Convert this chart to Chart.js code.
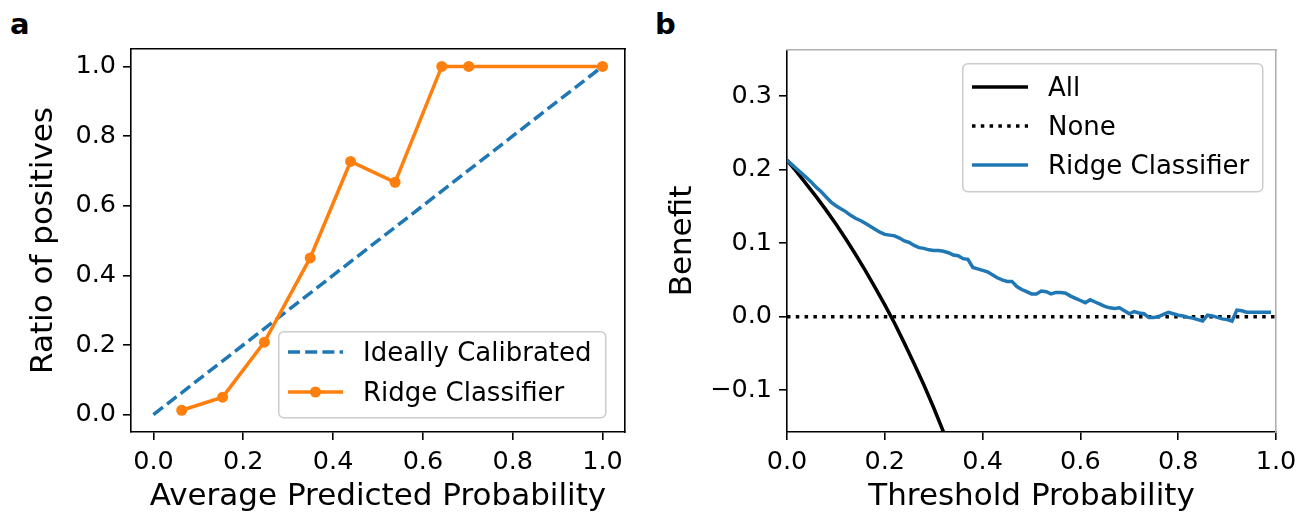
<!DOCTYPE html>
<html>
<head>
<meta charset="utf-8">
<script src="https://cdn.jsdelivr.net/npm/chart.js@4/dist/chart.umd.min.js"></script>
<style>
  body { margin: 0; background: #fff; }
  #wrap { position: relative; width: 1307px; height: 520px; overflow: hidden; font-family: 'DejaVu Sans', sans-serif; }
  canvas { position: absolute; top: 0; }
  .tag { position: absolute; font-weight: bold; font-size: 29px; line-height: 1; }
  .legend { position: absolute; overflow: visible; }
  .legend text { font-family: 'DejaVu Sans', sans-serif; font-size: 26px; fill: #000; }
</style>
</head>
<body>
<div id="wrap">
  <div class="tag" style="left:10px; top:10px;">a</div>
  <div class="tag" style="left:655px; top:10px;">b</div>
  <canvas id="chart-calibration" width="650" height="520" style="left:0;"></canvas>
  <canvas id="chart-dca" width="657" height="520" style="left:650px;"></canvas>

  <svg class="legend" style="left:278px; top:331px;" width="330" height="89">
    <rect x="0.75" y="0.75" width="327" height="86" rx="5" fill="#fff" fill-opacity="0.8" stroke="#cccccc" stroke-width="1.5"/>
    <line x1="10" x2="65" y1="21" y2="21" stroke="#1f77b4" stroke-width="3.5" stroke-dasharray="12 5.2"/>
    <text id="leg-ideal" x="85" y="21" dominant-baseline="central"></text>
    <line x1="10" x2="65" y1="61" y2="61" stroke="#ff7f0e" stroke-width="3.5"/>
    <circle cx="37.5" cy="61" r="5.5" fill="#ff7f0e"/>
    <text id="leg-ridge-a" x="85" y="61" dominant-baseline="central"></text>
  </svg>

  <svg class="legend" style="left:962px; top:63px;" width="303" height="131">
    <rect x="0.75" y="0.75" width="300" height="128" rx="5" fill="#fff" fill-opacity="0.8" stroke="#cccccc" stroke-width="1.5"/>
    <line x1="10" x2="66" y1="24" y2="24" stroke="#000" stroke-width="3.5"/>
    <text id="leg-all" x="86" y="24" dominant-baseline="central"></text>
    <line x1="10" x2="66" y1="63" y2="63" stroke="#000" stroke-width="3.5" stroke-dasharray="3.5 5.3"/>
    <text id="leg-none" x="86" y="63" dominant-baseline="central"></text>
    <line x1="10" x2="66" y1="102" y2="102" stroke="#1f77b4" stroke-width="3.5"/>
    <text id="leg-ridge-b" x="86" y="102" dominant-baseline="central"></text>
  </svg>
</div>
<script>
// panel a: calibration curve
const calibTicks = [0, 0.2, 0.4, 0.6, 0.8, 1.0];
const idealProb = [0, 1];
const idealRatio = [0, 1];
const calibProb = [0.063, 0.154, 0.247, 0.349, 0.439, 0.538, 0.642, 0.702, 1.0];
const calibRatio = [0.0125, 0.05, 0.208, 0.45, 0.727, 0.667, 1.0, 1.0, 1.0];

// panel b: decision curve
const dcaXTicks = [0, 0.2, 0.4, 0.6, 0.8, 1.0];
const dcaYTicks = [-0.1, 0, 0.1, 0.2, 0.3];
const allThreshold = [0, 0.02, 0.04, 0.06, 0.08, 0.10, 0.12, 0.14, 0.16, 0.18, 0.20,
  0.22, 0.24, 0.26, 0.28, 0.30, 0.32, 0.34];
const allBenefit = [0.213, 0.197, 0.180, 0.163, 0.145, 0.126, 0.106, 0.085, 0.063, 0.040, 0.016,
  -0.009, -0.036, -0.064, -0.093, -0.124, -0.157, -0.192];
const noneThreshold = [0, 1];
const noneBenefit = [0, 0];
const ridgeThreshold = [
  0.00, 0.01, 0.02, 0.03, 0.04, 0.05, 0.06, 0.07, 0.08, 0.09,
  0.10, 0.11, 0.12, 0.13, 0.14, 0.15, 0.16, 0.17, 0.18, 0.19,
  0.20, 0.21, 0.22, 0.23, 0.24, 0.25, 0.26, 0.27, 0.28, 0.29,
  0.30, 0.31, 0.32, 0.33, 0.34, 0.35, 0.36, 0.37, 0.38, 0.39,
  0.40, 0.41, 0.42, 0.43, 0.44, 0.45, 0.46, 0.47, 0.48, 0.49,
  0.50, 0.51, 0.52, 0.53, 0.54, 0.55, 0.56, 0.57, 0.58, 0.59,
  0.60, 0.61, 0.62, 0.63, 0.64, 0.65, 0.66, 0.67, 0.68, 0.69,
  0.70, 0.71, 0.72, 0.73, 0.74, 0.75, 0.76, 0.77, 0.78, 0.79,
  0.80, 0.81, 0.82, 0.83, 0.84, 0.85, 0.86, 0.87, 0.88, 0.89,
  0.90, 0.91, 0.92, 0.93, 0.94, 0.95, 0.96, 0.97, 0.98, 0.99];
const ridgeBenefit = [
  0.213, 0.207, 0.201, 0.195, 0.189, 0.183, 0.176, 0.170, 0.163, 0.156,
  0.151, 0.147, 0.143, 0.138, 0.134, 0.131, 0.127, 0.123, 0.119, 0.115,
  0.112, 0.111, 0.110, 0.107, 0.103, 0.101, 0.097, 0.094, 0.093, 0.091,
  0.090, 0.090, 0.089, 0.087, 0.084, 0.083, 0.079, 0.078, 0.067, 0.065,
  0.063, 0.061, 0.057, 0.053, 0.050, 0.048, 0.048, 0.041, 0.037, 0.034,
  0.031, 0.031, 0.035, 0.034, 0.031, 0.033, 0.033, 0.032, 0.028, 0.025,
  0.022, 0.019, 0.023, 0.020, 0.017, 0.014, 0.012, 0.011, 0.012, 0.008,
  0.004, 0.007, 0.005, 0.004, -0.001, -0.001, 0.000, 0.003, 0.006, 0.004,
  0.002, 0.001, -0.001, -0.002, -0.004, -0.006, 0.002, 0.001, -0.001, -0.003,
  -0.004, -0.006, 0.009, 0.008, 0.006, 0.006, 0.006, 0.006, 0.006, 0.006];

const labelIdeal = 'Ideally Calibrated';
const labelRidge = 'Ridge Classifier';
const labelAll = 'All';
const labelNone = 'None';

document.getElementById('leg-ideal').textContent = labelIdeal;
document.getElementById('leg-ridge-a').textContent = labelRidge;
document.getElementById('leg-all').textContent = labelAll;
document.getElementById('leg-none').textContent = labelNone;
document.getElementById('leg-ridge-b').textContent = labelRidge;

Chart.defaults.font.family = "'DejaVu Sans', sans-serif";
Chart.defaults.color = '#000';

const pairs = (xs, ys) => xs.map((x, i) => ({x: x, y: ys[i]}));
const fmt = (v) => (v < 0 ? '\u2212' : '') + Math.abs(v).toFixed(1);

// one visible axis with outward tick marks, fixed size
function axis(position, min, max, tickValues, title, titlePad, size) {
  return {
    type: 'linear',
    position: position,
    min: min,
    max: max,
    afterBuildTicks: (scale) => { scale.ticks = tickValues.map(v => ({value: v})); },
    afterFit: (scale) => {
      if (position === 'bottom') scale.height = size; else scale.width = size;
    },
    grid: {display: true, drawOnChartArea: false, drawTicks: true, tickLength: 8, color: '#000', lineWidth: 1.6},
    border: {display: true, color: '#000', width: 1.6},
    ticks: {font: {size: 25.5}, padding: 7, callback: (v) => fmt(v)},
    title: {display: true, text: title, font: {size: 31}, padding: titlePad},
  };
}

// top/right spines only
function frame(position, color) {
  return {
    type: 'linear',
    position: position,
    display: true,
    afterFit: (scale) => {
      if (position === 'top') scale.height = 0; else scale.width = 0;
    },
    grid: {display: false},
    ticks: {display: false},
    border: {display: true, color: color, width: 1.6},
  };
}

new Chart(document.getElementById('chart-calibration'), {
  type: 'line',
  data: {
    datasets: [{
      label: labelRidge,
      data: pairs(calibProb, calibRatio),
      borderColor: '#ff7f0e',
      backgroundColor: '#ff7f0e',
      borderWidth: 3.5,
      pointRadius: 5.5,
      pointBorderWidth: 0,
      order: 0,
    }, {
      label: labelIdeal,
      data: pairs(idealProb, idealRatio),
      borderColor: '#1f77b4',
      borderWidth: 3.5,
      borderDash: [12, 5.2],
      pointRadius: 0,
      order: 1,
    }]
  },
  options: {
    responsive: false,
    animation: false,
    devicePixelRatio: 1,
    layout: {padding: {left: 0, right: 25, top: 49, bottom: 0}},
    plugins: {legend: {display: false}, tooltip: {enabled: false}},
    elements: {line: {tension: 0}},
    scales: {
      x: axis('bottom', -0.05, 1.05, calibTicks, 'Average Predicted Probability', {top: 0, bottom: 4}, 88),
      y: axis('left', -0.05, 1.05, calibTicks, 'Ratio of positives', {top: 25, bottom: 0}, 131),
      xTop: frame('top', '#000'),
      yRight: frame('right', '#000'),
    },
  },
});

new Chart(document.getElementById('chart-dca'), {
  type: 'line',
  data: {
    datasets: [{
      label: labelRidge,
      data: pairs(ridgeThreshold, ridgeBenefit),
      borderColor: '#1f77b4',
      borderWidth: 3.5,
      pointRadius: 0,
      order: 0,
    }, {
      label: labelNone,
      data: pairs(noneThreshold, noneBenefit),
      borderColor: '#000',
      borderWidth: 3.5,
      borderDash: [3.5, 5.3],
      pointRadius: 0,
      order: 1,
    }, {
      label: labelAll,
      data: pairs(allThreshold, allBenefit),
      borderColor: '#000',
      borderWidth: 3.5,
      pointRadius: 0,
      order: 2,
    }]
  },
  options: {
    responsive: false,
    animation: false,
    devicePixelRatio: 1,
    layout: {padding: {left: 0, right: 31, top: 50, bottom: 0}},
    plugins: {legend: {display: false}, tooltip: {enabled: false}},
    elements: {line: {tension: 0}},
    scales: {
      x: axis('bottom', 0, 1, dcaXTicks, 'Threshold Probability', {top: 0, bottom: 4}, 88),
      y: axis('left', -0.157, 0.363, dcaYTicks, 'Benefit', {top: 14, bottom: 0}, 137),
      xTop: frame('top', '#b0b0b0'),
      yRight: frame('right', '#b0b0b0'),
    },
  },
});
</script>
</body>
</html>
